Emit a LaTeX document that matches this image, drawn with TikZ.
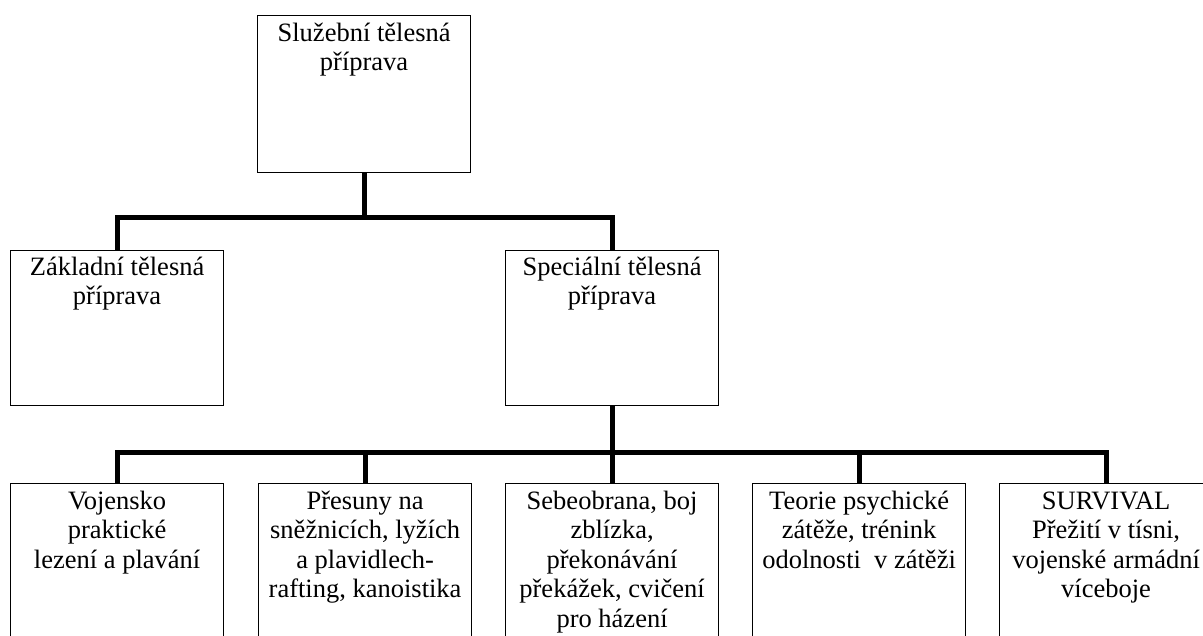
\documentclass[tikz,border=0pt]{standalone}
\usepackage{fontspec}
\setmainfont{Liberation Serif}
\begin{document}
\begin{tikzpicture}[x=1pt,y=-1pt,
  box/.style={draw, line width=1.2pt, rectangle, inner sep=0pt,
    minimum width=213pt, anchor=north west},
  boxtext/.style={anchor=north, inner sep=0pt, align=center,
    font=\fontsize{26.5}{29.5}\selectfont},
  link/.style={line width=5pt, line join=miter}]
\useasboundingbox (0,0) rectangle (1203,635);
\clip (0,0) rectangle (1203,635);
\newcommand{\firstline}{\rule{0pt}{22pt}}

% top level
\node[box, minimum height=157pt] (top) at (257,15) {};
\node[boxtext] (toptxt) at ([yshift=-4pt]top.north)
  {\firstline Služební tělesná\\příprava};

% second level
\node[box, minimum height=155pt] (zak) at (10,250) {};
\node[boxtext] (zaktxt) at ([yshift=-3pt]zak.north)
  {\firstline Základní tělesná\\příprava};
\node[box, minimum height=155pt] (spec) at (505,250) {};
\node[boxtext] (spectxt) at ([yshift=-3pt]spec.north)
  {\firstline Speciální tělesná\\příprava};

% third level
\node[box, minimum height=220pt] (b1) at (10,483) {};
\node[box, minimum height=220pt] (b2) at (258,483) {};
\node[box, minimum height=220pt] (b3) at (505,483) {};
\node[box, minimum height=220pt] (b4) at (752,483) {};
\node[box, minimum height=220pt] (b5) at (999,483) {};
\node[boxtext] (t1) at ([yshift=-4pt]b1.north)
  {\firstline Vojensko\\praktické\\lezení a plavání};
\node[boxtext] (t2) at ([yshift=-4pt]b2.north)
  {\firstline Přesuny na\\sněžnicích, lyžích\\a plavidlech-\\rafting, kanoistika};
\node[boxtext] (t3) at ([yshift=-4pt]b3.north)
  {\firstline Sebeobrana, boj\\zblízka,\\překonávání\\překážek, cvičení\\pro házení};
\node[boxtext] (t4) at ([yshift=-4pt]b4.north)
  {\firstline Teorie psychické\\zátěže, trénink\\odolnosti\ \ v zátěži};
\node[boxtext] (t5) at ([yshift=-4pt]b5.north)
  {\firstline SURVIVAL\\Přežití v tísni,\\vojenské armádní\\víceboje};

% connectors
\coordinate (j1) at (top.south |- 0,217);
\coordinate (j2) at (spec.south |- 0,452);
\draw[link] (top.south) -- (j1);
\draw[link] (zak.north) |- (j1) -| (spec.north);
\draw[link] (spec.south) -- (j2);
\draw[link] (b1.north) |- (j2) -| (b5.north);
\draw[link] (b2.north) -- (b2.north |- j2);
\draw[link] (b3.north) -- (j2);
\draw[link] (b4.north) -- (b4.north |- j2);
\end{tikzpicture}
\end{document}
